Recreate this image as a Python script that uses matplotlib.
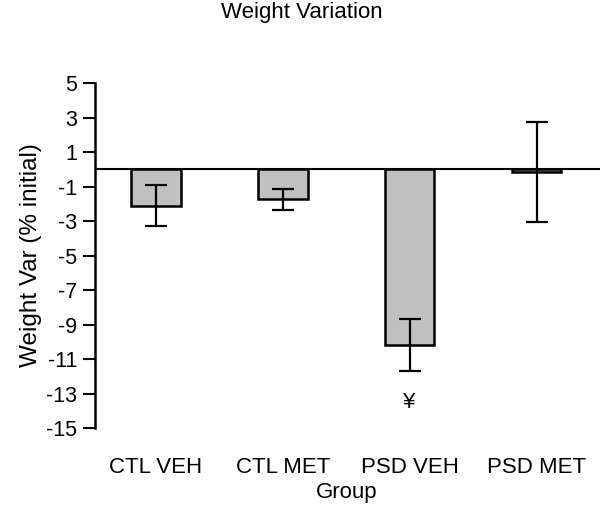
import matplotlib
matplotlib.use("Agg")
import matplotlib.pyplot as plt
import numpy as np

groups = ["CTL VEH", "CTL MET", "PSD VEH", "PSD MET"]
values = [-2.1, -1.75, -10.2, -0.15]
errors = [1.2, 0.62, 1.5, 2.9]
yticks = [5, 3, 1, -1, -3, -5, -7, -9, -11, -13, -15]
marker_text = "¥"
marker_group = 2
marker_y = -13.5

plt.rcParams['font.family'] = ['Liberation Sans', 'DejaVu Sans']

fig = plt.figure(figsize=(6.03, 5.16), dpi=100)
ax = fig.add_axes([0.1575, 0.1705, 0.8375, 0.6685])

x = np.arange(len(groups))
ax.bar(x, values, width=0.39, color="#c0c0c0", edgecolor="black", linewidth=1.8, zorder=2)
ax.errorbar(x, values, yerr=errors, fmt="none", ecolor="black", elinewidth=1.6,
            capsize=8, capthick=1.6, zorder=3)
ax.axhline(0, color="black", linewidth=1.5, zorder=4)

ax.set_ylim(-15, 5)
ax.set_xlim(-0.48, 3.5)
ax.set_yticks(yticks)
ax.set_yticklabels([str(t) for t in yticks], fontsize=15.5)
ax.tick_params(axis="y", direction="out", length=9, width=1.5, pad=4)
ax.set_xticks([])

for s in ["top", "right", "bottom"]:
    ax.spines[s].set_visible(False)
ax.spines["left"].set_linewidth(1.8)

for i, g in enumerate(groups):
    ax.text(x[i], -17.3, g, ha="center", va="center", fontsize=16)
ax.text(1.5, -18.75, "Group", ha="center", va="center", fontsize=16)

ax.text(x[marker_group], marker_y, marker_text, ha="center", va="center", fontsize=16)

ax.set_ylabel("Weight Var (% initial)", fontsize=17.5, labelpad=3)
fig.text(0.5, 0.975, "Weight Variation", ha="center", va="center", fontsize=16)

fig.savefig("out.png", dpi=100)
